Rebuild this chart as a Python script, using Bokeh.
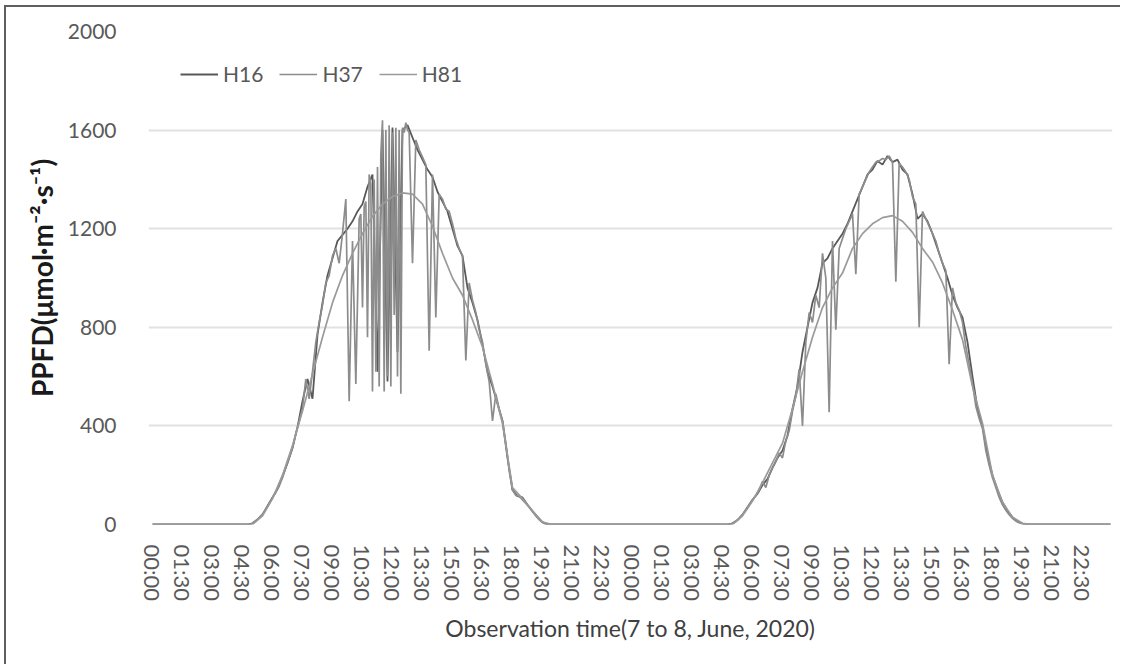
import numpy as np
from bokeh.plotting import figure
from bokeh.models import FixedTicker, Legend, LegendItem, Range1d
from bokeh.embed import file_html
from bokeh.resources import INLINE

# ---------------- data ----------------
tick_labels_day = ["00:00", "01:30", "03:00", "04:30", "06:00", "07:30", "09:00", "10:30",
                   "12:00", "13:30", "15:00", "16:30", "18:00", "19:30", "21:00", "22:30"]
tick_labels = tick_labels_day * 2          # 7 June and 8 June
tick_step_h = 1.5
y_ticks = [0, 400, 800, 1200, 1600, 2000]

night_start_h, night_end_h = 0.0, 47.9     # PPFD = 0 at night

# H16 : 15-min readings (start hour, step in hours, values)
h16_d1_start, h16_d2_start, h16_step = 4.75, 28.75, 0.25
h16_d1 = [0, 5, 20, 40, 75, 110, 145, 195, 250, 310, 395, 500, 590, 510, 770, 900,
          1010, 1080, 1150, 1175, 1200, 1230, 1270, 1300, 1370, 1420, 620, 1600, 580,
          1610, 700, 1600, 1620, 1570, 1520, 1480, 1440, 1410, 1350, 1310, 1270, 1200,
          1130, 1090, 960, 900, 830, 730, 620, 560, 490, 420, 270, 140, 115, 110, 80, 55,
          30, 10, 0]
h16_d2 = [0, 5, 18, 40, 70, 100, 125, 160, 185, 230, 270, 300, 360, 470, 560, 700, 800,
          900, 960, 1060, 1080, 1120, 1150, 1180, 1220, 1270, 1320, 1370, 1420, 1440, 1475,
          1460, 1495, 1470, 1480, 1440, 1420, 1340, 1240, 1260, 1230, 1180, 1120, 1060,
          1000, 930, 880, 840, 740, 600, 470, 400, 280, 200, 140, 90, 55, 30, 12, 4, 0]

# H37 : 10-min readings, 5-min readings during the cloudy noon of 7 June
h37_d1_am_start, h37_d1_noon_start, h37_d1_pm_start = 4 + 50 / 60, 10 + 25 / 60, 12 + 50 / 60
h37_d2_start = 28 + 50 / 60
h37_step, h37_noon_step = 1 / 6, 1 / 12
h37_d1_am = [0, 5, 15, 28, 42, 62, 85, 108, 130, 155,
             190, 230, 270, 310, 370, 420, 470, 590, 510, 620,
             740, 820, 890, 980, 1010, 1090, 1120, 1060, 1180, 1320,
             500, 1150, 570, 1240]
h37_d1_noon = [1260, 880, 1290, 1310, 760, 1420, 1380, 540, 1400, 620,
               1450, 560, 1500, 1640, 540, 1600, 600, 1620, 560, 1590,
               850, 1610, 600, 1600, 530, 1610, 1590, 1630, 1600]
h37_d1_pm = [1590, 1060, 1560, 1520, 1490, 1460, 705, 1420, 840, 1340,
             1320, 1280, 1270, 1220, 1160, 1120, 1090, 665, 980, 910,
             860, 790, 740, 650, 580, 420, 530, 470, 420, 330,
             220, 140, 118, 115, 100, 85, 70, 52, 35, 20, 8, 0]
h37_d2 = [0, 5, 12, 25, 40, 60, 80, 100, 118, 140,
          175, 150, 200, 230, 255, 290, 270, 340, 380, 460,
          520, 630, 400, 740, 860, 820, 930, 880, 1100, 1000,
          455, 1150, 790, 1120, 1160, 1200, 1230, 1260, 1015, 1340,
          1370, 1400, 1430, 1450, 1470, 1475, 1485, 1480, 1495, 1470,
          985, 1465, 1450, 1430, 1400, 1330, 1300, 800, 1270, 1240,
          1210, 1180, 1150, 1100, 1060, 1030, 650, 960, 900, 870,
          820, 720, 650, 570, 480, 430, 390, 300, 240, 190,
          150, 110, 80, 58, 40, 25, 14, 7, 2, 0]

# H81 : 30-min readings
h81_d1_start, h81_d2_start, h81_step = 5.0, 29.0, 0.5
h81_d1 = [0, 35, 105, 200, 320, 460, 610, 760, 900, 1010, 1100, 1180, 1250, 1300, 1330,
          1345, 1340, 1300, 1210, 1100, 1000, 930, 830, 720, 570, 410, 150, 105, 55, 10, 0]
h81_d2 = [0, 35, 95, 170, 250, 330, 470, 620, 760, 880, 960, 1020, 1120, 1180, 1220,
          1245, 1253, 1230, 1185, 1120, 1065, 980, 870, 750, 560, 410, 200, 90, 30, 5, 0]


def series(*segments):
    t, v = [night_start_h], [0]
    for start, step, vals in segments:
        t += list(start + step * np.arange(len(vals)))
        v += list(vals)
    t.append(night_end_h)
    v.append(0)
    return t, v


h16_t, h16_v = series((h16_d1_start, h16_step, h16_d1), (h16_d2_start, h16_step, h16_d2))
h37_t, h37_v = series((h37_d1_am_start, h37_step, h37_d1_am),
                      (h37_d1_noon_start, h37_noon_step, h37_d1_noon),
                      (h37_d1_pm_start, h37_step, h37_d1_pm),
                      (h37_d2_start, h37_step, h37_d2))
h81_t, h81_v = series((h81_d1_start, h81_step, h81_d1), (h81_d2_start, h81_step, h81_d2))

tick_hours = [tick_step_h * i for i in range(len(tick_labels))]

# ---------------- figure ----------------
W, H = 1116, 659
p = figure(width=W, height=H, x_range=Range1d(-0.2, 48.0), y_range=Range1d(0, 2000),
           output_backend="svg", toolbar_location=None,
           min_border_left=142, min_border_right=10, min_border_top=24, min_border_bottom=142)
p.outline_line_color = None
p.background_fill_color = "white"
p.border_fill_color = "white"
p.styles = {"border-left": "2px solid #5f5f5f", "border-top": "2px solid #5f5f5f",
            "margin-left": "4px", "margin-top": "5px"}

r16 = p.line(h16_t, h16_v, line_color="#595959", line_width=1.8)
r37 = p.line(h37_t, h37_v, line_color="#8c8c8c", line_width=1.7)
r81 = p.line(h81_t, h81_v, line_color="#9a9a9a", line_width=1.7)

p.xgrid.visible = False
p.ygrid.ticker = FixedTicker(ticks=y_ticks)
p.ygrid.grid_line_color = "#e2e2e2"
p.ygrid.grid_line_width = 2

font = "Lato"
p.yaxis.ticker = FixedTicker(ticks=y_ticks)
p.yaxis.axis_line_color = None
p.yaxis.major_tick_line_color = None
p.yaxis.minor_tick_line_color = None
p.yaxis.major_label_text_font = font
p.yaxis.major_label_text_font_size = "21px"
p.yaxis.major_label_text_color = "#595959"
p.yaxis.major_label_standoff = 26
p.yaxis.axis_label = "PPFD(μmol·m⁻²·s⁻¹)"
p.yaxis.axis_label_text_font = font
p.yaxis.axis_label_text_font_style = "bold"
p.yaxis.axis_label_text_font_size = "28px"
p.yaxis.axis_label_text_color = "#1a1a1a"
p.yaxis.axis_label_standoff = 6

p.xaxis.ticker = FixedTicker(ticks=tick_hours)
p.xaxis.major_label_overrides = {h: lab for h, lab in zip(tick_hours, tick_labels)}
p.xaxis.major_label_orientation = "vertical"
p.xaxis.axis_line_color = None
p.xaxis.major_tick_line_color = None
p.xaxis.minor_tick_line_color = None
p.xaxis.major_label_text_font = font
p.xaxis.major_label_text_font_size = "22px"
p.xaxis.major_label_text_color = "#595959"
p.xaxis.major_label_standoff = 14
p.xaxis.axis_label = "Observation time(7 to 8, June, 2020)"
p.xaxis.axis_label_text_font = font
p.xaxis.axis_label_text_font_style = "normal"
p.xaxis.axis_label_text_font_size = "23px"
p.xaxis.axis_label_text_color = "#404040"
p.xaxis.axis_label_standoff = 10

legend = Legend(items=[LegendItem(label="H16", renderers=[r16]),
                       LegendItem(label="H37", renderers=[r37]),
                       LegendItem(label="H81", renderers=[r81])],
                orientation="horizontal", location=(32, 438),
                glyph_width=38, glyph_height=24, label_height=24, label_standoff=5,
                spacing=16, padding=0, margin=0, border_line_color=None,
                background_fill_alpha=0, label_text_font=font,
                label_text_font_size="21px", label_text_color="#595959")
p.add_layout(legend)

open("out.html", "w").write(file_html(p, INLINE))
